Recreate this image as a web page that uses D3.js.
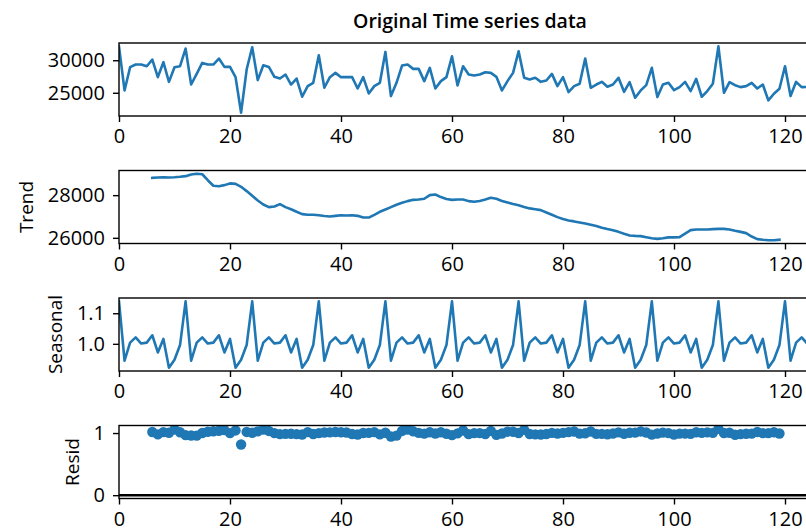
<!DOCTYPE html>
<html>
<head>
<meta charset="utf-8">
<script src="https://cdn.jsdelivr.net/npm/d3@7/dist/d3.min.js"></script>
<style>
  html, body { margin: 0; padding: 0; background: #ffffff; }
  svg { display: block; }
  text { font-family: "Open Sans", "Noto Sans", "DejaVu Sans", sans-serif; fill: #000; }
</style>
</head>
<body>
<div id="chart"></div>
<script>
// ---------------- data ----------------
const titleText = "Original Time series data";
const panelLabels = [null, "Trend", "Seasonal", "Resid"];

const observed = [
  32100, 25360, 28930, 29340, 29340, 29080, 30100, 27400, 29700, 26680,
  28930, 29080, 31790, 26270, 27900, 29590, 29340, 29340, 30260, 28980,
  28980, 27400, 21940, 28570, 31990, 26940, 29230, 28980, 27450, 27190,
  27800, 26270, 27190, 24390, 26020, 26530, 30770, 25770, 27400, 28060,
  27400, 27400, 27400, 25660, 27400, 24900, 26020, 26530, 31280, 24490,
  26530, 29180, 29340, 28670, 28670, 26790, 28830, 25660, 26790, 27400,
  30610, 26120, 29080, 27800, 27650, 27800, 28160, 28060, 27450, 25360,
  26790, 28060, 31380, 27300, 27040, 27300, 26680, 26890, 27900, 26020,
  27400, 25100, 26020, 26380, 30260, 25770, 26270, 26680, 25920, 26270,
  27300, 25150, 26630, 24230, 25360, 26170, 28830, 24340, 26270, 26530,
  25410, 25870, 26680, 25260, 27140, 24390, 25260, 26380, 32140, 25000,
  26630, 26170, 25870, 26020, 26530, 25660, 26270, 23830, 24850, 25610,
  29080, 24490, 26680, 25870, 25900, 26100
];

const trend = [
  null, null, null, null, null, null, 28810, 28830, 28840, 28830,
  28840, 28860, 28890, 28970, 29000, 28980, 28700, 28440, 28420, 28470,
  28550, 28530, 28390, 28190, 27970, 27750, 27560, 27440, 27470, 27580,
  27440, 27340, 27220, 27110, 27080, 27080, 27060, 27020, 27000, 27030,
  27060, 27050, 27060, 27030, 26950, 26950, 27080, 27220, 27330, 27440,
  27550, 27640, 27720, 27780, 27800, 27830, 28000, 28030, 27910, 27820,
  27780, 27800, 27800, 27720, 27690, 27730, 27800, 27880, 27830, 27730,
  27660, 27590, 27530, 27450, 27380, 27340, 27300, 27190, 27080, 26970,
  26880, 26810, 26770, 26720, 26670, 26610, 26550, 26470, 26410, 26360,
  26280, 26190, 26110, 26090, 26080, 26030, 25980, 25950, 25980, 26020,
  26020, 26030, 26200, 26360, 26390, 26390, 26390, 26410, 26420, 26420,
  26390, 26330, 26280, 26220, 26060, 25940, 25910, 25890, 25890, 25910,
  null, null, null, null, null, null
];

const seasonal = [
  1.139, 0.945, 1.004, 1.021, 1.001, 1.004, 1.028, 0.972, 1.016, 0.922, 0.948, 0.996,
  1.139, 0.945, 1.004, 1.021, 1.001, 1.004, 1.028, 0.972, 1.016, 0.922, 0.948, 0.996,
  1.139, 0.945, 1.004, 1.021, 1.001, 1.004, 1.028, 0.972, 1.016, 0.922, 0.948, 0.996,
  1.139, 0.945, 1.004, 1.021, 1.001, 1.004, 1.028, 0.972, 1.016, 0.922, 0.948, 0.996,
  1.139, 0.945, 1.004, 1.021, 1.001, 1.004, 1.028, 0.972, 1.016, 0.922, 0.948, 0.996,
  1.139, 0.945, 1.004, 1.021, 1.001, 1.004, 1.028, 0.972, 1.016, 0.922, 0.948, 0.996,
  1.139, 0.945, 1.004, 1.021, 1.001, 1.004, 1.028, 0.972, 1.016, 0.922, 0.948, 0.996,
  1.139, 0.945, 1.004, 1.021, 1.001, 1.004, 1.028, 0.972, 1.016, 0.922, 0.948, 0.996,
  1.139, 0.945, 1.004, 1.021, 1.001, 1.004, 1.028, 0.972, 1.016, 0.922, 0.948, 0.996,
  1.139, 0.945, 1.004, 1.021, 1.001, 1.004, 1.028, 0.972, 1.016, 0.922, 0.948, 0.996,
  1.139, 0.945, 1.004, 1.021, 1.001, 1.004
];

const resid = [
  null, null, null, null, null, null, 1.016, 0.978, 1.014, 1.004,
  1.058, 1.012, 0.966, 0.960, 0.958, 1.000, 1.021, 1.028, 1.036, 1.047,
  0.999, 1.042, 0.815, 1.018, 1.004, 1.027, 1.056, 1.034, 0.998, 0.982,
  0.986, 0.989, 0.983, 0.976, 1.014, 0.984, 0.998, 1.009, 1.011, 1.017,
  1.012, 1.009, 0.985, 0.977, 1.001, 1.002, 1.014, 0.979, 1.005, 0.944,
  0.959, 1.034, 1.057, 1.028, 1.003, 0.990, 1.013, 0.993, 1.013, 0.989,
  0.967, 0.994, 1.042, 0.982, 0.998, 0.999, 0.985, 1.035, 0.971, 0.992,
  1.022, 1.021, 1.001, 1.052, 0.984, 0.978, 0.976, 0.985, 1.002, 0.993,
  1.003, 1.015, 1.025, 0.991, 0.996, 1.025, 0.986, 0.987, 0.980, 0.993,
  1.011, 0.988, 1.004, 1.007, 1.026, 1.009, 0.974, 0.993, 1.007, 0.999,
  0.976, 0.990, 0.991, 0.986, 1.012, 1.002, 1.010, 1.003, 1.068, 1.001,
  1.005, 0.973, 0.983, 0.988, 0.990, 1.018, 0.998, 0.998, 1.012, 0.992,
  null, null, null, null, null, null
];

const xTicks = [0, 20, 40, 60, 80, 100, 120];
const observedTicks = [25000, 30000];
const trendTicks = [26000, 28000];
const seasonalTicks = [1.0, 1.1];
const residTicks = [0, 1];
const seasonalTickLabels = ["1.0", "1.1"];
const residTickLabels = ["0", "1"];

// ---------------- layout ----------------
const W = 806, H = 531;
const left = 119, xPerUnit = 5.55;
const panelTop0 = 43, panelStep = 127.5, panelH = 73;
const blue = "#1f77b4";
const lineW = 2.6, spineW = 1.4, tickLen = 6, tickFont = 20, labelFont = 19;

const n = observed.length;
const x = d3.scaleLinear().domain([0, n - 1]).range([left, left + (n - 1) * xPerUnit]);
const right = x(n - 1);

const svg = d3.select("#chart").append("svg").attr("width", W).attr("height", H);
svg.append("rect").attr("width", W).attr("height", H).attr("fill", "#fff");

function padded(vals) {
  const e = d3.extent(vals.filter(v => v != null));
  const m = (e[1] - e[0]) * 0.05;
  return [e[0] - m, e[1] + m];
}

const panels = [
  { values: observed, kind: "line", ticks: observedTicks, fmt: d => String(d), domain: padded(observed) },
  { values: trend, kind: "line", ticks: trendTicks, fmt: d => String(d), domain: padded(trend) },
  { values: seasonal, kind: "line", ticks: seasonalTicks, fmt: (d, i) => seasonalTickLabels[i], domain: padded(seasonal) },
  { values: resid, kind: "dots", ticks: residTicks, fmt: (d, i) => residTickLabels[i], domain: padded(resid.concat([0])) }
];

panels.forEach((p, k) => {
  const top = panelTop0 + k * panelStep;
  const bottom = top + panelH;
  const y = d3.scaleLinear().domain(p.domain).range([bottom, top]);
  const g = svg.append("g");

  const clipId = "clip" + k;
  svg.append("clipPath").attr("id", clipId)
    .append("rect").attr("x", left).attr("y", top).attr("width", right - left).attr("height", panelH);

  const data = p.values.map((v, i) => ({ i, v })).filter(d => d.v != null);
  const plot = g.append("g").attr("clip-path", `url(#${clipId})`);

  if (p.kind === "line") {
    const line = d3.line().x(d => x(d.i)).y(d => y(d.v));
    plot.append("path").datum(data)
      .attr("d", line).attr("fill", "none").attr("stroke", blue)
      .attr("stroke-width", lineW).attr("stroke-linejoin", "round").attr("stroke-linecap", "square");
  } else {
    plot.append("path").datum([{ i: 0, v: 0 }, { i: n - 1, v: 0 }])
      .attr("d", d3.line().x(d => x(d.i)).y(d => y(d.v)))
      .attr("stroke", "#000").attr("stroke-width", lineW).attr("fill", "none");
    plot.selectAll("circle").data(data).join("circle")
      .attr("cx", d => x(d.i)).attr("cy", d => y(d.v)).attr("r", 5.2)
      .attr("fill", blue);
  }

  g.append("rect").attr("x", left).attr("y", top).attr("width", right - left).attr("height", panelH)
    .attr("fill", "none").attr("stroke", "#000").attr("stroke-width", spineW);

  const xAxis = g.append("g").attr("transform", `translate(0,${bottom})`)
    .call(d3.axisBottom(x).tickValues(xTicks).tickSize(tickLen).tickPadding(7).tickFormat(d3.format("d")));
  const yAxis = g.append("g").attr("transform", `translate(${left},0)`)
    .call(d3.axisLeft(y).tickValues(p.ticks).tickSize(tickLen).tickPadding(8).tickFormat(p.fmt));
  [xAxis, yAxis].forEach(a => {
    a.select(".domain").remove();
    a.selectAll(".tick line").attr("stroke", "#000").attr("stroke-width", spineW);
    a.selectAll(".tick text").attr("font-size", tickFont).attr("fill", "#000")
      .style("font-family", '"Open Sans", "Noto Sans", "DejaVu Sans", sans-serif');
  });

  if (panelLabels[k]) {
    let minX = Infinity;
    yAxis.selectAll(".tick text").each(function () {
      const b = this.getBBox();
      const ctm = this.getCTM();
      minX = Math.min(minX, ctm.e + b.x);
    });
    const lx = minX - 15;
    g.append("text")
      .attr("transform", `translate(${lx},${(top + bottom) / 2}) rotate(-90)`)
      .attr("text-anchor", "middle")
      .attr("font-size", labelFont)
      .text(panelLabels[k]);
  }
});

svg.append("text")
  .attr("x", 470).attr("y", 27.5)
  .attr("text-anchor", "middle")
  .attr("font-size", 19.5).attr("font-weight", 600)
  .text(titleText);
</script>
</body>
</html>
